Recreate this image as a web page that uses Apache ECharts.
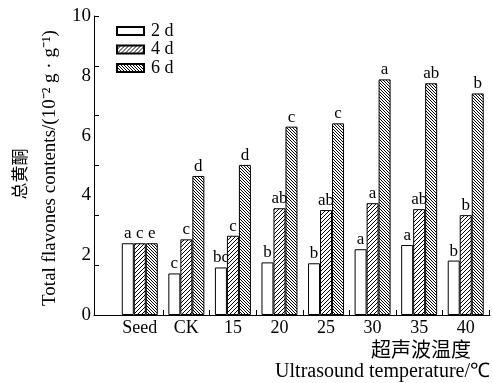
<!DOCTYPE html>
<html>
<head>
<meta charset="utf-8">
<script src="https://cdn.jsdelivr.net/npm/echarts@6/dist/echarts.min.js"></script>
<style>html,body{margin:0;padding:0;background:#fff}#c{width:493px;height:383px}</style>
</head>
<body>
<div id="c"></div>
<script>
const categories = ['Seed', 'CK', '15', '20', '25', '30', '35', '40'];
const seriesNames = ['2 d', '4 d', '6 d'];
const d2 = [2.40, 1.39, 1.59, 1.76, 1.73, 2.20, 2.34, 1.82];
const d4 = [2.40, 2.53, 2.65, 3.57, 3.51, 3.74, 3.54, 3.34];
const d6 = [2.40, 4.65, 5.02, 6.30, 6.41, 7.88, 7.75, 7.41];
const letters2 = ['a', 'c', 'bc', 'b', 'b', 'a', 'a', 'b'];
const letters4 = ['c', 'c', 'c', 'ab', 'ab', 'a', 'ab', 'b'];
const letters6 = ['e', 'd', 'd', 'c', 'c', 'a', 'ab', 'b'];
const yTickLabels = [0, 2, 4, 6, 8, 10];

const SERIF = '"Liberation Serif", "Times New Roman", serif';
const CJK = '"Noto Sans CJK SC", sans-serif';

function hatch(dir, size) {
  const c = document.createElement('canvas');
  c.width = size; c.height = size;
  const g = c.getContext('2d');
  g.fillStyle = '#fff';
  g.fillRect(0, 0, size, size);
  g.strokeStyle = '#000';
  g.lineWidth = 1;
  g.beginPath();
  if (dir === '/') {
    g.moveTo(-1, size + 1); g.lineTo(size + 1, -1);
    g.moveTo(-1, 1); g.lineTo(1, -1);
    g.moveTo(size - 1, size + 1); g.lineTo(size + 1, size - 1);
  } else {
    g.moveTo(-1, -1); g.lineTo(size + 1, size + 1);
    g.moveTo(size - 1, -1); g.lineTo(size + 1, 1);
    g.moveTo(-1, size - 1); g.lineTo(1, size + 1);
  }
  g.stroke();
  return c;
}

const fills = ['#ffffff', { image: hatch('/', 4), repeat: 'repeat' }, { image: hatch('\\', 3), repeat: 'repeat' }];
const values = [d2, d4, d6];
const letters = [letters2, letters4, letters6];

const chart = echarts.init(document.getElementById('c'), null, { renderer: 'canvas' });

const grids = [
  { left: 94, right: 3, top: 16, bottom: 68 },
  { left: 116.5, right: 4, top: 16, bottom: 68 }
];

const option = {
  animation: false,
  backgroundColor: '#fff',
  grid: grids,
  legend: {
    orient: 'vertical',
    left: 111,
    top: 17,
    itemWidth: 27,
    itemHeight: 8,
    itemGap: 0.5,
    icon: 'rect',
    data: seriesNames,
    textStyle: { fontFamily: SERIF, fontSize: 18, color: '#000', lineHeight: 18, padding: [0, 0, 0, 2] }
  },
  xAxis: [
    {
      type: 'value', gridIndex: 0, min: 0, max: 1,
      axisLine: { show: true, lineStyle: { color: '#000', width: 1 } },
      axisTick: { show: false }, axisLabel: { show: false }, splitLine: { show: false }
    },
    {
      type: 'category', gridIndex: 1, data: categories,
      axisLine: { show: false },
      axisTick: { show: true, inside: true, length: 5, lineStyle: { color: '#000' },
        interval: function (index) { return index !== 0; } },
      axisLabel: { fontFamily: SERIF, fontSize: 18, color: '#000', margin: 4 },
      splitLine: { show: false }
    }
  ],
  yAxis: [
    {
      type: 'value', gridIndex: 0, min: 0, max: 10, interval: 10 / 6,
      axisLine: { show: true, lineStyle: { color: '#000', width: 1 } },
      axisTick: { show: true, inside: true, length: 5, lineStyle: { color: '#000' } },
      axisLabel: { show: false }, splitLine: { show: false }
    },
    {
      type: 'value', gridIndex: 0, min: 0, max: 10, interval: 2, position: 'left',
      axisLine: { show: false }, axisTick: { show: false }, splitLine: { show: false },
      axisLabel: {
        fontFamily: SERIF, fontSize: 19, color: '#000', margin: 3,
        formatter: function (v) { return yTickLabels.indexOf(v) >= 0 ? String(v) : ''; }
      }
    },
    {
      type: 'value', gridIndex: 1, min: 0, max: 10, show: false
    }
  ],
  graphic: [
    { type: 'text', x: 20, y: 174, rotation: Math.PI / 2,
      style: { text: '总黄酮', font: '17px ' + CJK, fill: '#000', align: 'center', verticalAlign: 'middle' } },
    { type: 'text', x: 50, y: 168, rotation: Math.PI / 2,
      style: { text: 'Total flavones contents/(10⁻² g · g⁻¹)', font: '19px ' + SERIF, fill: '#000', align: 'center', verticalAlign: 'middle' } },
    { type: 'text', right: 22, top: 339,
      style: { text: '超声波温度', font: '20px ' + CJK, fill: '#000' } },
    { type: 'text', right: 3, top: 362,
      style: { text: 'Ultrasound temperature/℃', font: '20px ' + SERIF, fill: '#000' } }
  ],
  series: seriesNames.map(function (name, si) {
    return {
      name: name,
      type: 'bar',
      xAxisIndex: 1,
      yAxisIndex: 2,
      barWidth: 12,
      barGap: '0%',
      itemStyle: { color: fills[si], borderColor: '#000', borderWidth: 1 },
      label: {
        show: true, position: 'top', distance: 1,
        fontFamily: SERIF, fontSize: 17, color: '#000',
        formatter: function (p) { return letters[si][p.dataIndex]; }
      },
      data: values[si]
    };
  })
};

chart.setOption(option);
</script>
</body>
</html>
